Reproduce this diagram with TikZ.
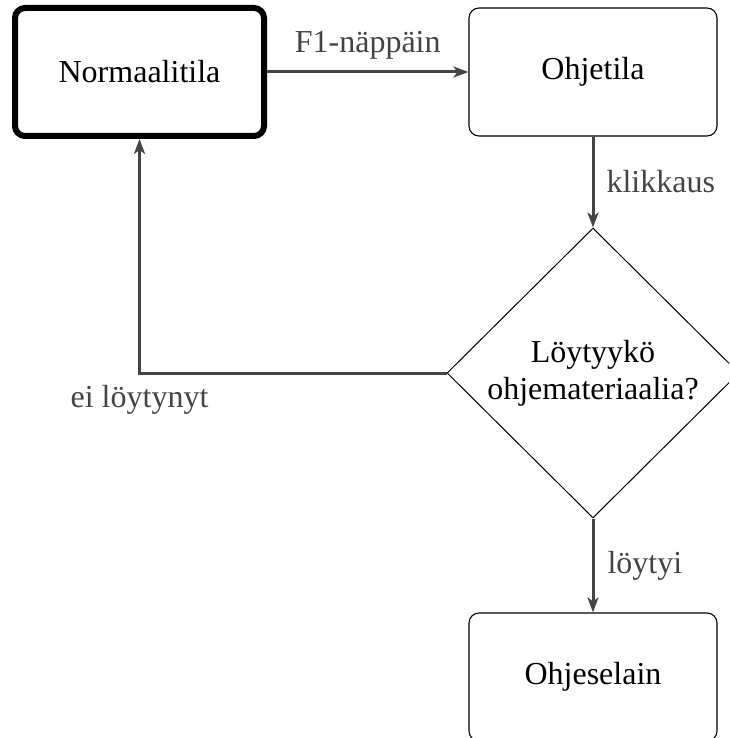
\documentclass[tikz,border=0pt]{standalone}
\usepackage{fontspec}
\setmainfont{Liberation Serif}
\usetikzlibrary{shapes.geometric,arrows.meta}
\definecolor{flowgray}{RGB}{68,68,68}
\tikzset{
  statebox/.style={draw=black, line width=1.1pt, rounded corners=10pt,
    minimum width=248pt, minimum height=128pt, inner sep=0pt,
    font=\fontsize{32}{38}\selectfont},
  startbox/.style={statebox, line width=6pt, minimum width=249pt},
  decision/.style={draw=black, line width=1pt, shape=diamond, inner sep=0pt,
    minimum width=292pt, minimum height=290pt, align=center,
    font=\fontsize{32}{37}\selectfont},
  flow/.style={draw=flowgray, line width=3pt,
    -{Stealth[length=15pt, width=11pt, inset=4pt]}},
  flowlabel/.style={text=flowgray, inner sep=0pt,
    font=\fontsize{32}{38}\selectfont}
}
\begin{document}
\begin{tikzpicture}[x=1pt, y=-1pt]
  \useasboundingbox (0,0) rectangle (729,738);
  \clip (0,0) rectangle (729,738);

  % states
  \node[startbox] (normal) at (139.5,72) {Normaalitila};
  \node[statebox] (help) at (593,72) {Ohjetila};
  \node[decision] (found) at (593,373) {Löytyykö\\ohjemateriaalia?};
  \node[statebox] (browser) at (593,677) {Ohjeselain};

  % transitions
  \draw[flow] (normal) -- (help)
    node[flowlabel, pos=0.5, anchor=base, yshift=19pt] {F1-näppäin};
  \draw[flow] (help) -- (found.north)
    node[flowlabel, pos=0.5, anchor=base west, xshift=12pt, yshift=-10pt] {klikkaus};
  \draw[flow] (found.west) -| (normal.south)
    node[flowlabel, pos=0.5, anchor=base, yshift=-34pt] {ei löytynyt};
  \draw[flow] (found.south) -- (browser.north)
    node[flowlabel, pos=0.5, anchor=base west, xshift=13pt, yshift=-8.5pt] {löytyi};
\end{tikzpicture}
\end{document}
